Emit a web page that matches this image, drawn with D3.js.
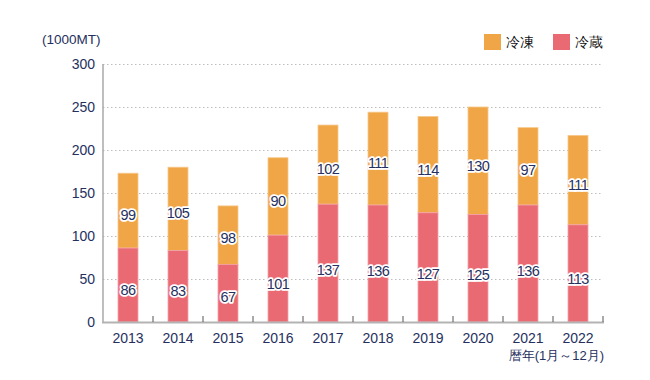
<!DOCTYPE html>
<html>
<head>
<meta charset="utf-8">
<script src="https://cdn.jsdelivr.net/npm/d3@7"></script>
<style>
  html, body { margin: 0; padding: 0; background: #fff; }
  svg { display: block; }
  text { font-family: "Liberation Sans", Arial, sans-serif; }
</style>
</head>
<body>
<div id="chart"></div>
<script>
// ---- data ----
const years = ["2013","2014","2015","2016","2017","2018","2019","2020","2021","2022"];
// 冷蔵 (chilled) values
const chilled = [86, 83, 67, 101, 137, 136, 127, 125, 136, 113];
// 冷凍 (frozen) segment heights as drawn in the picture
const frozenBars = [87, 97, 68, 90, 92, 108, 112, 125, 90, 104];
// 冷凍 labels as printed
const frozenLabels = [99, 105, 98, 90, 102, 111, 114, 130, 97, 111];
const yTicks = [0, 50, 100, 150, 200, 250, 300];
const seriesNames = ["冷凍", "冷蔵"];
const colors = { frozen: "#f0a646", chilled: "#ea6a73" };

const W = 650, H = 380;
const m = { left: 103, right: 47, top: 64, bottom: 58 };
const svg = d3.select("#chart").append("svg").attr("width", W).attr("height", H);

const x = d3.scaleBand().domain(years).range([m.left, W - m.right]).paddingInner(0.6).paddingOuter(0.3);
const y = d3.scaleLinear().domain([0, 300]).range([H - m.bottom, m.top]);
const navy = "#26305e";

// grid lines
svg.append("g").selectAll("line").data(yTicks.filter(d => d > 0)).join("line")
  .attr("x1", m.left).attr("x2", W - m.right)
  .attr("y1", d => y(d) + 0.5).attr("y2", d => y(d) + 0.5)
  .attr("stroke", "#bdbdbd").attr("stroke-width", 1).attr("stroke-dasharray", "1.5,2.5");

// y tick labels
svg.append("g").selectAll("text").data(yTicks).join("text")
  .attr("x", m.left - 8).attr("y", d => y(d)).attr("dy", "0.35em")
  .attr("text-anchor", "end").attr("fill", navy).attr("font-size", 14)
  .text(d => d);

// stacked bars
const data = years.map((yr, i) => ({ yr, c: chilled[i], f: frozenBars[i], fl: frozenLabels[i] }));
const g = svg.append("g");
g.selectAll("rect.f").data(data).join("rect").attr("class", "f")
  .attr("x", d => x(d.yr)).attr("width", x.bandwidth())
  .attr("y", d => y(d.c + d.f)).attr("height", d => y(d.c) - y(d.c + d.f))
  .attr("fill", colors.frozen).attr("stroke", "#f6c88c").attr("stroke-width", 0.8);
g.selectAll("rect.c").data(data).join("rect").attr("class", "c")
  .attr("x", d => x(d.yr)).attr("width", x.bandwidth())
  .attr("y", d => y(d.c)).attr("height", d => y(0) - y(d.c))
  .attr("fill", colors.chilled).attr("stroke", "#f3a3a8").attr("stroke-width", 0.8);

// value labels with white halo
function label(sel, fx, txt) {
  sel.selectAll(null).data(data).join("text")
    .attr("x", d => x(d.yr) + x.bandwidth() / 2).attr("y", fx).attr("dy", "0.36em")
    .attr("text-anchor", "middle").attr("font-size", 14.5)
    .attr("fill", navy).attr("stroke", "#fff").attr("stroke-width", 3.5)
    .attr("stroke-linejoin", "round").attr("paint-order", "stroke")
    .attr("letter-spacing", "-0.6")
    .text(txt);
}
const lg = svg.append("g");
label(lg, d => y(d.c * 0.44), d => d.c);
label(lg, d => y(d.c + d.f * 0.45), d => d.fl);

// y axis line
svg.append("line").attr("x1", m.left).attr("x2", m.left)
  .attr("y1", y(300)).attr("y2", y(0))
  .attr("stroke", "#a9a9a9").attr("stroke-width", 1.5);
// x axis line
svg.append("line").attr("x1", m.left - 1).attr("x2", W - m.right + 1)
  .attr("y1", y(0) + 0.5).attr("y2", y(0) + 0.5)
  .attr("stroke", "#b3b3b3").attr("stroke-width", 2);
// ticks between categories
const step = x.step();
const bounds = years.slice(1).map(yr => x(yr) - (step - x.bandwidth()) / 2).concat([W - m.right]);
svg.append("g").selectAll("line").data(bounds).join("line")
  .attr("x1", d => d).attr("x2", d => d)
  .attr("y1", y(0) - 6).attr("y2", y(0))
  .attr("stroke", "#555").attr("stroke-width", 1);

// x labels
svg.append("g").selectAll("text").data(years).join("text")
  .attr("x", d => x(d) + x.bandwidth() / 2).attr("y", y(0) + 16).attr("dy", "0.35em")
  .attr("text-anchor", "middle").attr("fill", navy).attr("font-size", 14)
  .text(d => d);

// unit label
svg.append("text").attr("x", 42).attr("y", 39).attr("dy", "0.35em")
  .attr("fill", navy).attr("font-size", 13.5).text("(1000MT)");
// x axis title
svg.append("text").attr("x", W - m.right + 1).attr("y", 355).attr("dy", "0.35em")
  .attr("text-anchor", "end").attr("fill", navy).attr("font-size", 13)
  .attr("font-family", "'Noto Sans CJK JP', sans-serif").text("暦年(1月～12月)");

// legend
const leg = svg.append("g");
const legItems = [{ n: seriesNames[0], c: colors.frozen, x: 484 }, { n: seriesNames[1], c: colors.chilled, x: 553 }];
leg.selectAll("rect").data(legItems).join("rect")
  .attr("x", d => d.x).attr("y", 34).attr("width", 17).attr("height", 16).attr("fill", d => d.c);
leg.selectAll("text").data(legItems).join("text")
  .attr("x", d => d.x + 22).attr("y", 42).attr("dy", "0.35em")
  .attr("font-size", 14).attr("fill", "#111")
  .attr("font-family", "'Noto Sans CJK JP', sans-serif").text(d => d.n);
</script>
</body>
</html>
